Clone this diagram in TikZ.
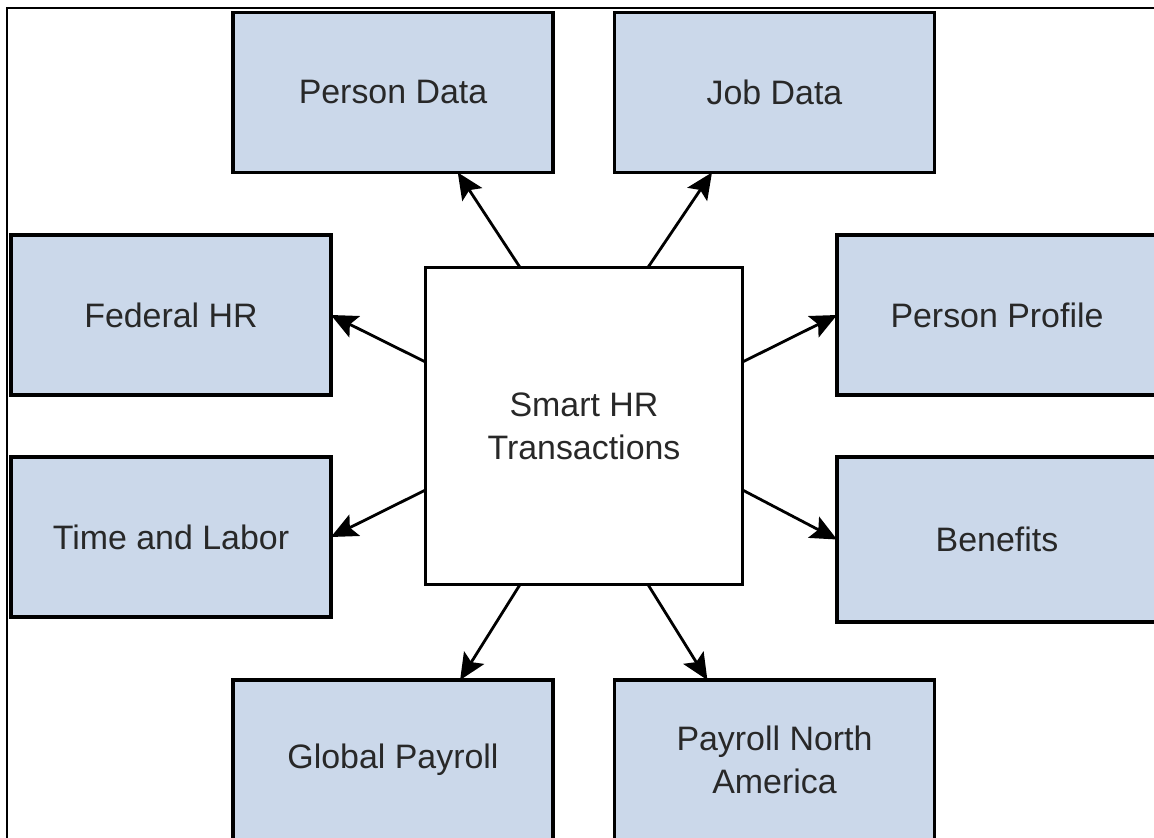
\documentclass[tikz,border=0pt]{standalone}
\usepackage{fontspec}
\setmainfont{Liberation Sans}
\usetikzlibrary{arrows.meta}
\definecolor{modfill}{RGB}{203,216,234}
\definecolor{labelgray}{RGB}{40,40,40}

\begin{document}
\begin{tikzpicture}[x=0.02cm, y=-0.02cm,
		>={Stealth[length=15pt,width=13.5pt,inset=3pt]},
		font=\fontsize{19.3}{24.4}\selectfont,
		module/.style={draw=black, line width=2pt, fill=modfill, text=labelgray,
			minimum width=6.4cm, minimum height=3.2cm, align=center, inner sep=0pt, outer sep=0pt},
		hubbox/.style={draw=black, line width=1.7pt, fill=white, text=labelgray,
			minimum width=6.36cm, minimum height=6.36cm, align=center, inner sep=0pt, outer sep=0pt},
		link/.style={->, line width=1.6pt}]
		\useasboundingbox (0,0) rectangle (1154,838);
		\clip (0,0) rectangle (1154,838);
		% outer frame, runs off the page at right and bottom
		\draw[line width=0.9pt] (7,8) rectangle (1175,860);
		% hub and the modules round it
		\node[hubbox] (hub) at (584,426) {Smart HR\\Transactions};
		\node[module] (pd) at (393,92.5) {Person Data};
		\node[module] (jd) at (774.5,92.5) {Job Data};
		\node[module] (fhr) at (171,315) {Federal HR};
		\node[module] (pp) at (997,315) {Person Profile};
		\node[module] (tl) at (171,537) {Time and Labor};
		\node[module, minimum height=3.3cm] (ben) at (997,539.5) {Benefits};
		\node[module] (gp) at (393,760) {Global Payroll};
		\node[module] (pna) at (774.5,760) {Payroll North\\America};
		% links out of the hub
		\draw[link] (hub.112) -- (pd.-51);
		\draw[link] (hub.68) -- (jd.232);
		\draw[link] (hub.158) -- (fhr.east);
		\draw[link] (hub.22) -- (pp.west);
		\draw[link] (hub.202) -- (tl.east);
		\draw[link] (hub.-22) -- (ben.west);
		\draw[link] (hub.248) -- (gp.50);
		\draw[link] (hub.-68) -- (pna.130);
	\end{tikzpicture}
\end{document}
